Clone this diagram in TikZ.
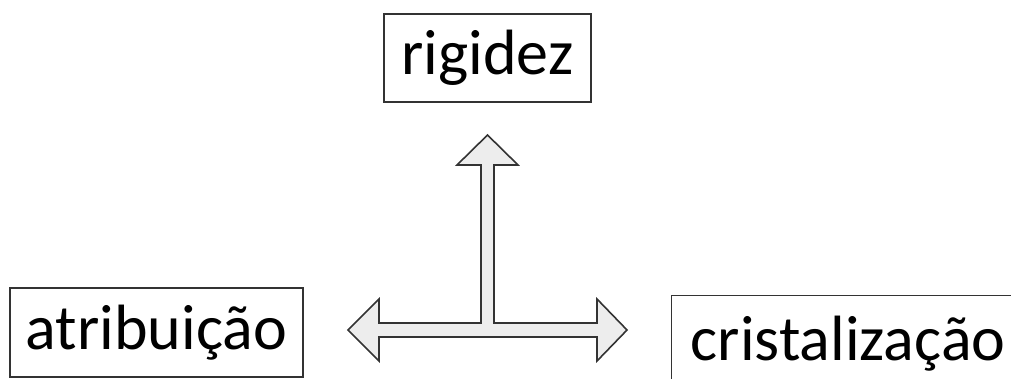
\documentclass[tikz,border=0pt]{standalone}
\usepackage{fontspec}
\setmainfont{Carlito}
\usepackage{tikz}
\usetikzlibrary{positioning}
\tikzstyle{box} = [draw=black!80,line width=1.4pt,rectangle,inner sep=0,font=\fontsize{64}{70}\selectfont]
\tikzstyle{arrowshape} = [draw=black!80,line width=1.6pt,fill=black!7,line join=miter]
\begin{document}
\begin{tikzpicture}[x=1pt,y=-1pt]
      \useasboundingbox (0,0) rectangle (1011,378);
      \node[box,minimum width=207,minimum height=88] (rig) at (487.5,58) {rigidez};
      \node[box,minimum width=293,minimum height=89] (atr) at (156.5,332.5) {atribuição};
      \node[box,anchor=north west,minimum height=95,text width=380,align=left,inner xsep=19] (cri) at (671,295) {cristalização};
      % three-way arrow
      \coordinate (hub) at (487.5,330);
      \draw[arrowshape] (hub) ++(0,-195) -- ++(30.5,30) -- ++(-24,0) -- ++(0,158) -- ++(103,0)
        -- ++(0,-24) -- ++(30,31) -- ++(-30,31) -- ++(0,-24) -- ++(-218,0) -- ++(0,24)
        -- ++(-31,-31) -- ++(31,-31) -- ++(0,24) -- ++(102,0) -- ++(0,-158) -- ++(-24,0) -- cycle;
    \end{tikzpicture}
\end{document}
